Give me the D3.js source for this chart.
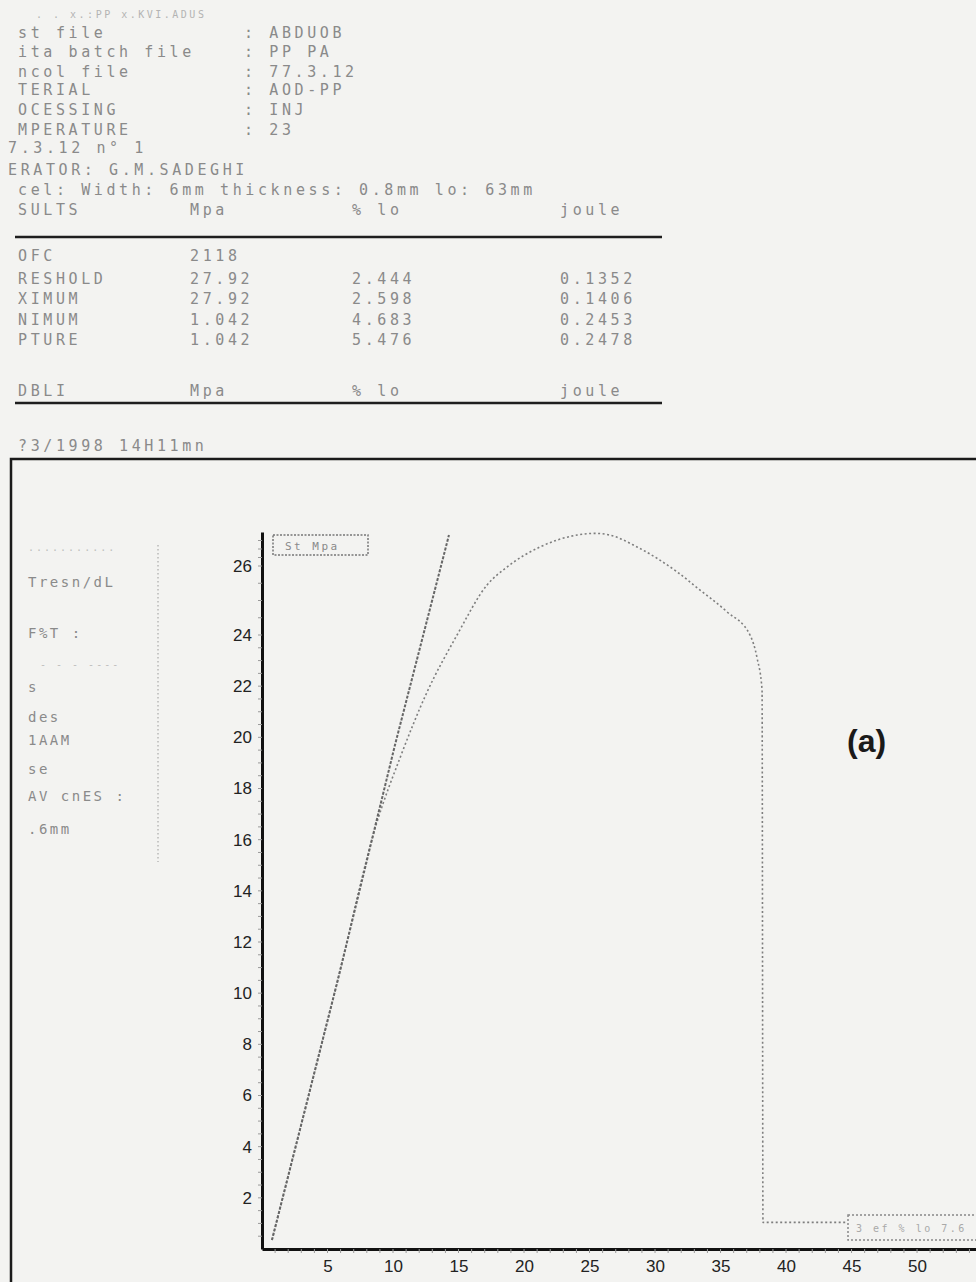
<!DOCTYPE html>
<html>
<head>
<meta charset="utf-8">
<script src="https://cdn.jsdelivr.net/npm/d3@7"></script>
<style>
  html, body { margin: 0; padding: 0; background: #f3f3f1; }
  svg { display: block; }
</style>
</head>
<body>
<svg id="chart" width="976" height="1282"></svg>
<script>
// ---- Printout header ----
const headerLabels = ["st file", "ita batch file", "ncol file", "TERIAL", "OCESSING", "MPERATURE"];
const headerValues = ["ABDUOB", "PP PA", "77.3.12", "AOD-PP", "INJ", "23"];
const headerExtra = ["7.3.12 n° 1", "ERATOR: G.M.SADEGHI", "cel: Width: 6mm  thickness: 0.8mm  lo: 63mm"];

// ---- Results table ----
const tableHead = ["SULTS", "Mpa", "% lo", "joule"];
const resultNames = ["OFC", "RESHOLD", "XIMUM", "NIMUM", "PTURE"];
const resultStress = ["2118", "27.92", "27.92", "1.042", "1.042"];
const resultStrain = ["", "2.444", "2.598", "4.683", "5.476"];
const resultEnergy = ["", "0.1352", "0.1406", "0.2453", "0.2478"];
const tableFoot = ["DBLI", "Mpa", "% lo", "joule"];
const dateStamp = "?3/1998 14H11mn";

// ---- Side panel ----
const sideLabels = ["Tresn/dL", "F%T :", "s", "des", "1AAM", "se", "AV cnES :", ".6mm"];

// ---- Axis ticks ----
const xTicks = [5, 10, 15, 20, 25, 30, 35, 40, 45, 50];
const yTicks = [2, 4, 6, 8, 10, 12, 14, 16, 18, 20, 22, 24, 26];

// ---- Stress-strain curve ----
const curveX = [0.76, 5.73, 8.78, 10.53, 12.60, 14.89, 17.18, 18.70, 21.22, 24.05, 25.40, 26.56, 28.63, 31.68, 33.44, 35.50, 37.25, 37.79, 38.17, 38.24, 41.0, 44.7];
const curveY = [0.35, 10.40, 16.69, 19.19, 21.77, 24.00, 25.45, 25.97, 27.12, 27.82, 27.92, 27.82, 27.12, 25.83, 25.30, 24.67, 24.00, 23.10, 21.85, 1.042, 1.042, 1.042];

// ---- Elastic modulus line ----
const modX = [0.76, 5.73, 10.15, 14.27];
const modY = [0.35, 10.40, 19.70, 27.82];

const boxTopText = "St Mpa";
const boxBottomText = "3 ef  % lo  7.6";
const panelTag = "(a)";

const svg = d3.select("#chart");
const mono = "'DejaVu Sans Mono', 'Liberation Mono', monospace";
const sans = "'Liberation Sans', Arial, sans-serif";
const faded = "#8a8a8a";

function printText(g, x, y, s, opts = {}) {
  return g.append("text")
    .attr("x", x).attr("y", y)
    .attr("font-family", mono)
    .attr("font-size", opts.size || 15)
    .attr("letter-spacing", opts.ls == null ? 3.6 : opts.ls)
    .attr("fill", opts.fill || faded)
    .attr("opacity", opts.op || 1)
    .text(s);
}

// ---- Header block ----
const head = svg.append("g");
printText(head, 36, 18, ". . x.:PP x.KVI.ADUS", { size: 10, ls: 2.5, op: 0.6 });
const headerY = [38, 57, 77, 95, 115, 135];
headerLabels.forEach((t, i) => {
  printText(head, 18, headerY[i], t);
  printText(head, 244, headerY[i], ": " + headerValues[i]);
});
printText(head, 8, 153, headerExtra[0]);
printText(head, 8, 175, headerExtra[1]);
printText(head, 18, 195, headerExtra[2]);

const colX = [18, 190, 352, 560];
tableHead.forEach((t, i) => printText(head, colX[i], 215, t));
head.append("line").attr("x1", 15).attr("x2", 662).attr("y1", 237).attr("y2", 237)
  .attr("stroke", "#1e1e1e").attr("stroke-width", 2.5);

const rowY = [261, 284, 304, 325, 345];
resultNames.forEach((n, i) => {
  printText(head, 18, rowY[i], n);
  printText(head, colX[1], rowY[i], resultStress[i]);
  printText(head, colX[2], rowY[i], resultStrain[i]);
  printText(head, colX[3], rowY[i], resultEnergy[i]);
});
tableFoot.forEach((t, i) => printText(head, colX[i], 396, t));
head.append("line").attr("x1", 15).attr("x2", 662).attr("y1", 403).attr("y2", 403)
  .attr("stroke", "#1e1e1e").attr("stroke-width", 2.5);
printText(head, 18, 451, dateStamp);

// ---- Outer frame ----
svg.append("rect").attr("x", 11).attr("y", 459).attr("width", 980).attr("height", 840)
  .attr("fill", "none").attr("stroke", "#1a1a1a").attr("stroke-width", 2.5);

// ---- Side panel ----
const side = svg.append("g");
printText(side, 28, 551, "...........", { size: 10, ls: 2, op: 0.5 });
const sideY = [587, 638, 692, 722, 745, 774, 801, 834];
sideLabels.forEach((t, i) => printText(side, 28, sideY[i], t, { size: 14, ls: 2.5 }));
printText(side, 40, 668, "- - -  ----", { size: 10, ls: 2, op: 0.5 });
side.append("line").attr("x1", 158).attr("x2", 158).attr("y1", 545).attr("y2", 862)
  .attr("stroke", "#9a9a9a").attr("stroke-width", 1).attr("stroke-dasharray", "1.5,2.5");

// ---- Scales ----
const x = d3.scaleLinear().domain([0, 54.5]).range([262, 976]);
const y = d3.scaleLinear().domain([0, 24, 26, 28]).range([1249, 635, 566, 532]);

// ---- Axes ----
const xAxis = svg.append("g").attr("transform", "translate(0,1249)")
  .call(d3.axisBottom(x).tickValues(xTicks).tickSize(0).tickPadding(11).tickFormat(d3.format("d")));
xAxis.select(".domain").attr("stroke", "#111").attr("stroke-width", 3);
xAxis.selectAll("text").attr("font-family", sans).attr("font-size", 17).attr("fill", "#222");

const yAxis = svg.append("g").attr("transform", "translate(262,0)")
  .call(d3.axisLeft(y).tickValues(yTicks).tickSize(0).tickPadding(10).tickFormat(d3.format("d")));
yAxis.select(".domain").attr("stroke", "#111").attr("stroke-width", 3);
yAxis.selectAll("text").attr("font-family", sans).attr("font-size", 17).attr("fill", "#222");

// small printer tick marks along both axes
const minorY = d3.range(0.5, 28, 0.5);
svg.append("g").selectAll("line").data(minorY).join("line")
  .attr("x1", 258).attr("x2", 262).attr("y1", d => y(d)).attr("y2", d => y(d))
  .attr("stroke", "#999").attr("stroke-width", 1);
const minorX = d3.range(1, 55, 1);
svg.append("g").selectAll("line").data(minorX).join("line")
  .attr("x1", d => x(d)).attr("x2", d => x(d)).attr("y1", 1249).attr("y2", 1253)
  .attr("stroke", "#999").attr("stroke-width", 1);

// ---- Curves ----
const straight = d3.line().x(d => x(d[0])).y(d => y(d[1]));
const smooth = d3.line().x(d => x(d[0])).y(d => y(d[1])).curve(d3.curveMonotoneX);
const modPts = modX.map((v, i) => [v, modY[i]]);
const curvePts = curveX.map((v, i) => [v, curveY[i]]);

svg.append("path").datum(curvePts).attr("d", smooth)
  .attr("fill", "none").attr("stroke", "#7e7e7e").attr("stroke-width", 1.6)
  .attr("stroke-dasharray", "2,2.5");
svg.append("path").datum(modPts).attr("d", straight)
  .attr("fill", "none").attr("stroke", "#666").attr("stroke-width", 2)
  .attr("stroke-dasharray", "3,1.5");

// ---- Labels in boxes ----
svg.append("rect").attr("x", 273).attr("y", 535).attr("width", 95).attr("height", 20)
  .attr("fill", "none").attr("stroke", "#777").attr("stroke-width", 1.5).attr("stroke-dasharray", "2,1.5");
printText(svg, 285, 550, boxTopText, { size: 11, ls: 2.5 });

svg.append("rect").attr("x", 848).attr("y", 1215).attr("width", 140).attr("height", 25)
  .attr("fill", "none").attr("stroke", "#888").attr("stroke-width", 1.5).attr("stroke-dasharray", "2,2");
printText(svg, 856, 1232, boxBottomText, { size: 10, ls: 2.5, op: 0.7 });

// ---- Panel tag ----
svg.append("text").attr("x", 847).attr("y", 752)
  .attr("font-family", sans).attr("font-weight", "bold").attr("font-size", 32)
  .attr("fill", "#1a1a1a").text(panelTag);
</script>
</body>
</html>
